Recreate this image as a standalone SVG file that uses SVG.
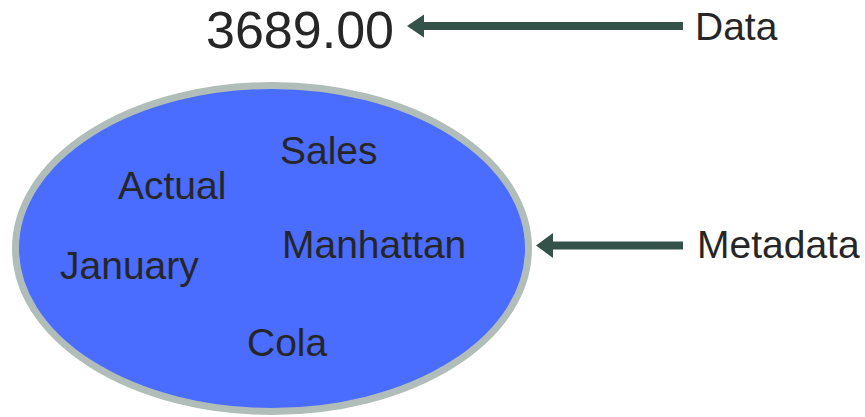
<svg xmlns="http://www.w3.org/2000/svg" width="865" height="417" viewBox="0 0 865 417">
<style>
text{font-family:"Liberation Sans",Arial,sans-serif;fill:#262626}
.lbl{font-size:39px}
.conn{stroke:#34524a;stroke-width:8;fill:none}
.head{fill:#34524a}
</style>
<rect width="865" height="417" fill="#ffffff"/>
<g id="metadata-ellipse">
<ellipse cx="272" cy="248.5" rx="256.5" ry="163" fill="#4a6cff" stroke="#b0bdb8" stroke-width="7"/>
<text class="lbl" x="280" y="164">Sales</text>
<text class="lbl" x="118" y="199">Actual</text>
<text class="lbl" x="282" y="258">Manhattan</text>
<text class="lbl" x="60" y="279">January</text>
<text class="lbl" x="247" y="356">Cola</text>
</g>
<g id="data-value">
<text x="206" y="48" style="font-size:52px">3689.00</text>
</g>
<g id="data-label">
<text class="lbl" x="695" y="40">Data</text>
</g>
<g id="metadata-label">
<text class="lbl" x="697" y="258">Metadata</text>
</g>
<g id="connectors">
<line class="conn" x1="683" y1="26" x2="420" y2="26"/>
<polygon class="head" points="407,26 424,14.5 424,37.5"/>
<line class="conn" x1="683" y1="245.5" x2="549" y2="245.5"/>
<polygon class="head" points="536,245.5 553,233 553,258"/>
</g>
</svg>
